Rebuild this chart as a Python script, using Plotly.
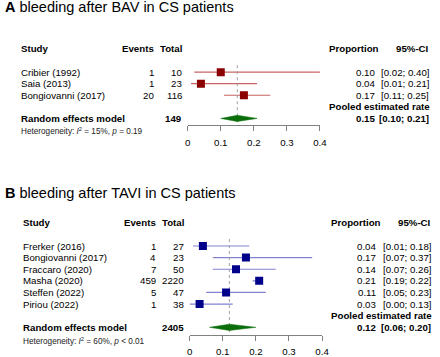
import plotly.graph_objects as go

W, H = 440, 357
FONT = "Liberation Sans, Arial, sans-serif"

# ---------------- data ----------------
a_title = "bleeding after BAV in CS patients"
a_studies = ["Cribier (1992)", "Saia (2013)", "Bongiovanni (2017)"]
a_events = [1, 1, 20]
a_total = [10, 23, 116]
a_prop = [0.10, 0.04, 0.17]
a_lo = [0.02, 0.01, 0.11]
a_hi = [0.40, 0.21, 0.25]
a_pooled = [0.15, 0.10, 0.21]
a_pooled_total = 149
a_i2, a_p = "15%", "= 0.19"

b_title = "bleeding after TAVI in CS patients"
b_studies = ["Frerker (2016)", "Bongiovanni (2017)", "Fraccaro (2020)", "Masha (2020)",
             "Steffen (2022)", "Piriou (2022)"]
b_events = [1, 4, 7, 459, 5, 1]
b_total = [27, 23, 50, 2220, 47, 38]
b_prop = [0.04, 0.17, 0.14, 0.21, 0.11, 0.03]
b_lo = [0.01, 0.07, 0.07, 0.19, 0.05, 0.00]
b_hi = [0.18, 0.37, 0.26, 0.22, 0.23, 0.13]
b_pooled = [0.12, 0.06, 0.20]
b_pooled_total = 2405
b_i2, b_p = "60%", "< 0.01"

tick_vals = [0, 0.1, 0.2, 0.3, 0.4]

fig = go.Figure()


def px(x):
    return x / W


def py(y):
    return 1 - y / H


def panel(letter, title, studies, events, total, prop, lo, hi, pooled, ptotal, i2, pval,
          xa, ya, sq_col, line_col, cols, title_y, het_y, dot_top, axis_row):
    xref = "x" if xa == 1 else "x%d" % xa
    yref = "y" if ya == 1 else "y%d" % ya
    n = len(studies)
    rows = list(range(n))
    # CI lines
    for r, l, h in zip(rows, lo, hi):
        fig.add_trace(go.Scatter(x=[l, h], y=[r, r], mode="lines",
                                 line=dict(color=line_col, width=1.2),
                                 xaxis=xref, yaxis=yref, showlegend=False, hoverinfo="skip"))
    # dotted line at pooled estimate
    fig.add_trace(go.Scatter(x=[pooled[0], pooled[0]], y=[dot_top, axis_row], mode="lines",
                             line=dict(color="#a0a0a0", width=1, dash="dot"),
                             xaxis=xref, yaxis=yref, showlegend=False, hoverinfo="skip"))
    # squares
    fig.add_trace(go.Scatter(x=prop, y=rows, mode="markers",
                             marker=dict(symbol="square", size=8, color=sq_col,
                                         line=dict(width=0)),
                             xaxis=xref, yaxis=yref, showlegend=False))
    # diamond
    rr = n + 1
    hh = 0.27
    fig.add_trace(go.Scatter(x=[pooled[1], pooled[0], pooled[2], pooled[0], pooled[1]],
                             y=[rr, rr - hh, rr, rr + hh, rr], mode="lines", fill="toself",
                             fillcolor="#0a6e0a", line=dict(color="#0a6e0a", width=0.5),
                             xaxis=xref, yaxis=yref, showlegend=False, hoverinfo="skip"))

    study_x, ev_r, tot_r, prop_l, val_r, ci_r = cols
    f = dict(family=FONT, size=9.7, color="black")

    def ann(text, x, y, anchor, bold=False, yr=yref, font=None):
        fig.add_annotation(text=("<b>%s</b>" % text) if bold else text, x=px(x), y=y,
                           xref="paper", yref=yr, xanchor=anchor, yanchor="middle",
                           showarrow=False, font=font or f, borderpad=0)

    # headers
    hr = -2
    ann("Study", study_x, hr, "left", True)
    ann("Events", ev_r, hr, "right", True)
    ann("Total", tot_r, hr, "right", True)
    ann("Proportion", prop_l, hr, "left", True)
    ann("95%-CI", ci_r, hr, "right", True)
    for r in rows:
        ann(studies[r], study_x, r, "left")
        ann(str(events[r]), ev_r, r, "right")
        ann(str(total[r]), tot_r, r, "right")
        ann("%.2f" % prop[r], val_r, r, "right")
        ann("[%.2f; %.2f]" % (lo[r], hi[r]), ci_r, r, "right")
    ann("Random effects model", study_x, rr, "left", True)
    ann(str(ptotal), tot_r, rr, "right", True)
    ann("Pooled estimated rate", prop_l, rr - 1, "left", True)
    ann("%.2f" % pooled[0], val_r, rr, "right", True)
    ann("[%.2f; %.2f]" % (pooled[1], pooled[2]), ci_r, rr, "right", True)
    # heterogeneity
    fig.add_annotation(text="Heterogeneity: <i>I</i><sup>2</sup> = %s, <i>p</i> %s" % (i2, pval),
                       x=px(study_x), y=py(het_y), xref="paper", yref="paper",
                       xanchor="left", yanchor="middle", showarrow=False, borderpad=0,
                       font=dict(family=FONT, size=8.2, color="#222"))
    # title
    fig.add_annotation(text="<b>%s</b> %s" % (letter, title), x=px(1.5), y=py(title_y),
                       xref="paper", yref="paper", xanchor="left", yanchor="middle",
                       showarrow=False, borderpad=0,
                       font=dict(family=FONT, size=14.5, color="black"))


panel("A", a_title, a_studies, a_events, a_total, a_prop, a_lo, a_hi, a_pooled,
      a_pooled_total, a_i2, a_p, 1, 1, "#8b0000", "#c86464",
      (17.3, 155.5, 184.5, 332.3, 381.5, 437.0), 7.5, 131.7, -0.6, 4.6)
panel("B", b_title, b_studies, b_events, b_total, b_prop, b_lo, b_hi, b_pooled,
      b_pooled_total, b_i2, b_p, 2, 2, "#00008b", "#8282d2",
      (19.0, 157.5, 186.5, 334.3, 383.0, 438.5), 193.3, 342.3, -0.6, 7.64)

axis_common = dict(range=[0, 0.4], tickvals=tick_vals, ticks="outside", ticklen=5,
                   tickcolor="#808080", linecolor="#808080", showline=True, linewidth=1,
                   showgrid=False, zeroline=False, ticklabelstandoff=3,
                   tickfont=dict(family=FONT, size=9.7, color="black"), fixedrange=True)
yaxis_common = dict(visible=False, showgrid=False, zeroline=False, fixedrange=True)

# panel A geometry: rows spaced 11.6 px, row 0 at 72.7 px, axis at 125.7 px
a_bot, a_top = 4.6, -2.5
# panel B geometry: rows spaced 11.65 px, row 0 at 246.7 px, axis at 335.7 px
b_bot, b_top = 7.64, -2.6

fig.update_layout(
    width=W, height=H, margin=dict(l=0, r=0, t=0, b=0),
    paper_bgcolor="white", plot_bgcolor="white",
    xaxis=dict(domain=[px(189), px(324.3)], anchor="y", **axis_common),
    yaxis=dict(domain=[py(125.7), py(125.7 - (a_bot - a_top) * 11.6)],
               range=[a_bot, a_top], anchor="x", **yaxis_common),
    xaxis2=dict(domain=[px(191), px(326.5)], anchor="y2", **axis_common),
    yaxis2=dict(domain=[py(335.7), py(335.7 - (b_bot - b_top) * 11.65)],
                range=[b_bot, b_top], anchor="x2", **yaxis_common),
    showlegend=False,
)

fig.write_html("out.html", config={"displayModeBar": False},
               post_script="document.body.style.margin='0';document.body.style.overflow='hidden';")
